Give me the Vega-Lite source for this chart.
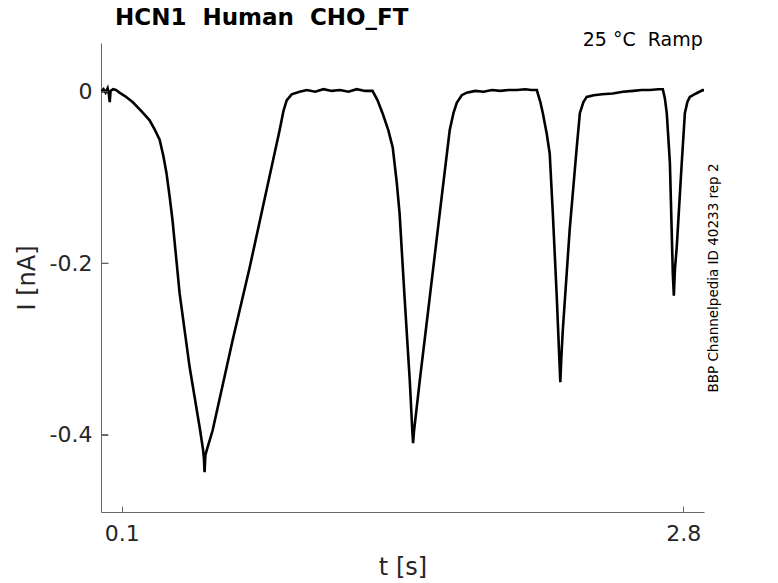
{
  "$schema": "https://vega.github.io/schema/vega-lite/v6.json",
  "width": 603,
  "height": 469,
  "autosize": "none",
  "padding": {"left": 101, "top": 43, "right": 74, "bottom": 71},
  "background": "white",
  "config": {"view": {"stroke": null}, "font": "DejaVu Sans"},
  "title": {"text": "HCN1\u00a0 Human\u00a0 CHO_FT", "anchor": "start", "frame": "group", "dx": 14, "offset": 1, "fontSize": 23, "fontWeight": "bold", "font": "DejaVu Sans", "color": "black"},
  "layer": [
    {
      "data": {"values": [
        {"t": 0.000, "I": 0.000}, {"t": 0.012, "I": 0.003}, {"t": 0.022, "I": -0.001}, {"t": 0.032, "I": 0.004},
        {"t": 0.038, "I": -0.003}, {"t": 0.042, "I": -0.012}, {"t": 0.046, "I": 0.001}, {"t": 0.058, "I": 0.003},
        {"t": 0.072, "I": 0.002}, {"t": 0.089, "I": -0.001}, {"t": 0.115, "I": -0.005}, {"t": 0.152, "I": -0.012},
        {"t": 0.192, "I": -0.022}, {"t": 0.233, "I": -0.033}, {"t": 0.258, "I": -0.044}, {"t": 0.282, "I": -0.056},
        {"t": 0.300, "I": -0.075}, {"t": 0.315, "I": -0.095}, {"t": 0.330, "I": -0.122}, {"t": 0.344, "I": -0.150},
        {"t": 0.378, "I": -0.235}, {"t": 0.426, "I": -0.321}, {"t": 0.474, "I": -0.391}, {"t": 0.491, "I": -0.418},
        {"t": 0.495, "I": -0.428}, {"t": 0.498, "I": -0.444}, {"t": 0.502, "I": -0.424}, {"t": 0.510, "I": -0.417},
        {"t": 0.537, "I": -0.395}, {"t": 0.633, "I": -0.290}, {"t": 0.715, "I": -0.205}, {"t": 0.796, "I": -0.115},
        {"t": 0.859, "I": -0.045}, {"t": 0.878, "I": -0.022}, {"t": 0.893, "I": -0.010}, {"t": 0.917, "I": -0.003},
        {"t": 0.955, "I": 0.000}, {"t": 0.990, "I": 0.002}, {"t": 1.030, "I": 0.000}, {"t": 1.070, "I": 0.003},
        {"t": 1.110, "I": 0.001}, {"t": 1.150, "I": 0.002}, {"t": 1.190, "I": 0.000}, {"t": 1.230, "I": 0.003},
        {"t": 1.270, "I": 0.001}, {"t": 1.306, "I": 0.001}, {"t": 1.330, "I": -0.010}, {"t": 1.354, "I": -0.025},
        {"t": 1.382, "I": -0.045}, {"t": 1.403, "I": -0.065}, {"t": 1.422, "I": -0.105}, {"t": 1.436, "I": -0.142},
        {"t": 1.460, "I": -0.240}, {"t": 1.485, "I": -0.337}, {"t": 1.497, "I": -0.395}, {"t": 1.501, "I": -0.410},
        {"t": 1.505, "I": -0.397}, {"t": 1.533, "I": -0.337}, {"t": 1.581, "I": -0.240}, {"t": 1.629, "I": -0.142},
        {"t": 1.677, "I": -0.045}, {"t": 1.695, "I": -0.025}, {"t": 1.711, "I": -0.013}, {"t": 1.735, "I": -0.004},
        {"t": 1.759, "I": -0.001}, {"t": 1.800, "I": 0.001}, {"t": 1.840, "I": 0.000}, {"t": 1.880, "I": 0.002},
        {"t": 1.920, "I": 0.001}, {"t": 1.960, "I": 0.002}, {"t": 2.000, "I": 0.002}, {"t": 2.040, "I": 0.003},
        {"t": 2.070, "I": 0.002}, {"t": 2.096, "I": 0.002}, {"t": 2.113, "I": -0.012}, {"t": 2.125, "I": -0.025},
        {"t": 2.143, "I": -0.048}, {"t": 2.158, "I": -0.072}, {"t": 2.173, "I": -0.142}, {"t": 2.192, "I": -0.240},
        {"t": 2.204, "I": -0.310}, {"t": 2.209, "I": -0.339}, {"t": 2.213, "I": -0.315}, {"t": 2.221, "I": -0.278},
        {"t": 2.254, "I": -0.161}, {"t": 2.288, "I": -0.065}, {"t": 2.303, "I": -0.025}, {"t": 2.320, "I": -0.012},
        {"t": 2.336, "I": -0.006}, {"t": 2.370, "I": -0.004}, {"t": 2.410, "I": -0.003}, {"t": 2.461, "I": -0.002},
        {"t": 2.510, "I": 0.000}, {"t": 2.560, "I": 0.001}, {"t": 2.600, "I": 0.002}, {"t": 2.640, "I": 0.002},
        {"t": 2.680, "I": 0.003}, {"t": 2.702, "I": 0.003}, {"t": 2.712, "I": -0.008}, {"t": 2.721, "I": -0.025},
        {"t": 2.736, "I": -0.083}, {"t": 2.750, "I": -0.212}, {"t": 2.755, "I": -0.238}, {"t": 2.760, "I": -0.208},
        {"t": 2.769, "I": -0.181}, {"t": 2.793, "I": -0.083}, {"t": 2.808, "I": -0.025}, {"t": 2.820, "I": -0.012},
        {"t": 2.832, "I": -0.006}, {"t": 2.862, "I": -0.002}, {"t": 2.894, "I": 0.002}, {"t": 2.900, "I": 0.001}
      ]},
      "mark": {"type": "line", "color": "black", "strokeWidth": 2.6, "clip": true},
      "encoding": {
        "x": {"field": "t", "type": "quantitative",
          "scale": {"domain": [0, 2.9], "nice": false, "zero": false},
          "axis": {"title": "t [s]", "values": [0.1, 2.8], "labelExpr": "format(datum.value, '.1f')",
            "grid": false, "domainColor": "#666666", "ticks": false,
            "labelFontSize": 22, "labelColor": "#262626", "labelPadding": 11, "labelFont": "DejaVu Sans",
            "titleFontSize": 24, "titleFontWeight": "normal", "titleColor": "#262626", "titlePadding": 11, "titleFont": "DejaVu Sans"}},
        "y": {"field": "I", "type": "quantitative",
          "scale": {"domain": [-0.4904, 0.0569], "nice": false, "zero": false},
          "axis": {"title": "I [nA]", "values": [-0.4, -0.2, 0],
            "labelExpr": "datum.value == 0 ? '0' : '-' + format(abs(datum.value), '.1f')",
            "grid": false, "domainColor": "#666666", "ticks": false,
            "labelFontSize": 22, "labelColor": "#262626", "labelPadding": 9, "labelFont": "DejaVu Sans",
            "titleFontSize": 24, "titleFontWeight": "normal", "titleColor": "#262626", "titlePadding": 10, "titleFont": "DejaVu Sans"}}
      }
    },
    {
      "data": {"values": [{"v": -0.4, "x0": 0, "x1": 0.034}, {"v": -0.2, "x0": 0, "x1": 0.034}, {"v": 0, "x0": 0, "x1": 0.034}]},
      "mark": {"type": "rule", "color": "#666666", "strokeWidth": 1},
      "encoding": {
        "y": {"field": "v", "type": "quantitative",
          "axis": {"orient": "left", "offset": -7, "values": [-0.4, -0.2, 0], "domain": false, "labels": false, "grid": false,
            "ticks": true, "tickSize": 7, "tickColor": "#666666", "tickWidth": 1, "title": null}},
        "x": {"field": "x0", "type": "quantitative",
          "axis": {"orient": "bottom", "offset": -6, "values": [0.1, 2.8], "domain": false, "labels": false, "grid": false,
            "ticks": true, "tickSize": 6, "tickColor": "#666666", "tickWidth": 1, "title": null}},
        "x2": {"field": "x1"}
      }
    },
    {
      "data": {"values": [{"note": "25 °C\u00a0 Ramp"}]},
      "mark": {"type": "text", "align": "right", "baseline": "alphabetic", "fontSize": 19, "color": "black", "font": "DejaVu Sans"},
      "encoding": {
        "text": {"field": "note"},
        "x": {"datum": 2.894, "type": "quantitative", "axis": null},
        "y": {"datum": 0.0534, "type": "quantitative",
          "axis": {"orient": "right", "title": "BBP Channelpedia ID 40233 rep 2", "titleAngle": 270,
            "domain": false, "ticks": false, "labels": false, "grid": false,
            "titleFontSize": 13.5, "titleFontWeight": "normal", "titleColor": "black", "titlePadding": 16, "titleFont": "DejaVu Sans"}}
      }
    }
  ],
  "resolve": {"axis": {"y": "independent", "x": "independent"}}
}
